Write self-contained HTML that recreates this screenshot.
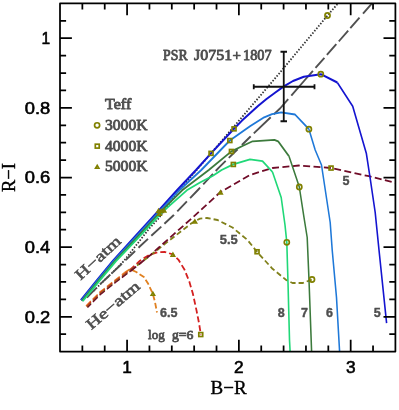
<!DOCTYPE html>
<html><head><meta charset="utf-8"><title>R-I vs B-R</title>
<style>html,body{margin:0;padding:0;background:#fff;}svg{display:block;position:absolute;left:0;top:0;will-change:transform;}text{font-family:"Liberation Sans",sans-serif;}</style>
</head><body>
<svg width="399" height="410" viewBox="0 0 399 410">
<rect width="399" height="410" fill="#fff"/>
<g fill="none" stroke-linejoin="round" stroke-linecap="butt">
<polyline points="93.8,290.9 100.0,284.4 111.3,273.7 123.9,261.0 131.3,251.5 149.0,228.8 158.2,218.8 177.0,193.0 211.0,153.3 234.0,126.5 266.2,88.8 280.0,72.5 327.5,15.5 338.0,3.4" stroke="#333" stroke-width="1.75" stroke-dasharray="1.5 1.6"/>
<path d="M86.9 297.5L96.2 288.1M100.0 284.4L109.4 275.5M112.5 272.6L119.0 266.5L121.9 263.7M125.7 260.1L135.1 251.0M138.5 247.7L140.0 246.3L148.0 238.9M151.3 235.8L161.3 226.6M164.4 223.7L173.8 215.0L174.0 214.8M177.3 211.4L186.9 201.4M190.1 198.1L197.9 190.0L200.1 187.7M203.2 184.3L213.0 173.9M215.7 171.0L218.6 167.9L225.7 160.9M228.8 157.9L237.6 149.2M241.9 145.0L250.0 137.0L250.7 136.3M253.8 133.4L270.7 117.3M273.8 114.4L280.0 108.5L288.2 99.1M291.3 95.6L304.0 81.0L312.9 70.9M315.5 67.9L324.4 57.8M326.9 54.9L336.3 44.2M338.8 41.4L340.0 40.0L348.2 30.6M350.3 28.2L359.5 17.7M363.0 13.7L372.0 3.4" stroke="#505050" stroke-width="1.9"/>
<polyline points="86.0,305.9 99.5,292.4 114.5,280.6 124.9,272.4" stroke="#e08020" stroke-width="1.35" stroke-dasharray="6.8 2.7" stroke-dashoffset="0"/>
<polyline points="124.9,272.4 130.0,269.2 136.3,272.0 143.9,277.0 148.2,283.8 152.7,293.4 155.0,302.0 157.0,312.5" stroke="#e08020" stroke-width="1.8" stroke-dasharray="5.8 2.6"/>
<polyline points="86.6,306.5 100.0,293.0 115.0,281.3 130.0,270.0" stroke="#d42020" stroke-width="1.35" stroke-dasharray="6.8 2.7" stroke-dashoffset="0.6"/>
<polyline points="130.0,270.0 140.0,260.7 148.8,255.1 157.5,252.3 165.0,252.0 172.9,254.4 178.3,259.6 184.4,269.4 189.3,281.6 192.9,293.8 196.6,310.9 199.0,323.0 200.8,334.6" stroke="#d42020" stroke-width="1.8" stroke-dasharray="6 3"/>
<polyline points="87.1,307.1 100.4,293.7 115.3,281.9 130.3,270.6" stroke="#80801a" stroke-width="1.35" stroke-dasharray="6.8 2.7" stroke-dashoffset="1.2"/>
<polyline points="130.3,270.6 149.6,256.0 165.3,243.6 190.0,224.4 194.9,221.1 200.0,218.6 207.0,218.0 217.5,220.0 232.5,227.5 247.5,240.0 257.0,251.8 272.5,268.8 286.2,280.0 292.5,283.0 302.8,283.0 312.0,279.5" stroke="#80801a" stroke-width="1.8" stroke-dasharray="5.4 3"/>
<polyline points="87.5,307.5 100.8,294.1 115.7,282.3 130.7,271.0" stroke="#700c28" stroke-width="1.35" stroke-dasharray="6.8 2.7" stroke-dashoffset="1.8"/>
<polyline points="130.7,271.0 149.5,255.8 190.0,219.9 200.0,210.8 220.5,192.0 250.0,175.0 272.5,168.0 299.0,165.5 331.0,168.0 369.0,176.2 395.4,182.8" stroke="#700c28" stroke-width="1.8" stroke-dasharray="7 3.4"/>
<polyline points="337.3,82.5 352.7,106.3 366.3,153.2 370.2,178.5 375.2,212.5 379.0,250.0 386.6,323.1" stroke="#1414d0" stroke-width="1.6"/>
<polyline points="80.9,300.2 97.0,280.0 113.3,260.3 135.5,236.0 158.1,211.2 177.2,190.0 196.0,170.0 211.0,153.3 234.0,128.8 242.0,120.6 250.0,113.2 258.0,106.0 266.2,99.2 275.0,92.8 283.8,86.4 293.0,81.0 303.8,76.8 320.8,74.2 337.3,82.5" stroke="#1414d0" stroke-width="2"/>
<polyline points="308.9,129.2 315.2,150.0 321.5,165.0 330.2,222.5 332.2,250.0 336.5,297.5 339.6,351.6" stroke="#1e78d8" stroke-width="1.55"/>
<polyline points="81.4,300.5 97.6,280.3 114.0,260.6 136.4,236.4 159.2,211.6 179.6,190.0 201.3,170.0 229.8,140.5 250.0,126.3 264.2,117.3 272.0,114.2 281.2,112.3 295.0,114.5 308.9,129.2" stroke="#1e78d8" stroke-width="1.8"/>
<polyline points="289.0,156.3 297.0,180.0 299.3,187.0 304.0,217.5 307.2,237.5 309.0,280.0 311.6,351.6" stroke="#3c7a3c" stroke-width="1.55"/>
<polyline points="82.0,300.9 98.3,280.7 114.8,261.0 137.5,236.8 160.5,211.9 182.2,190.3 208.8,170.0 231.4,151.4 242.5,146.0 252.6,141.3 274.4,139.8 278.1,141.3 289.0,156.3" stroke="#3c7a3c" stroke-width="1.8"/>
<polyline points="272.5,172.0 281.2,197.5 285.0,225.0 286.8,242.3 288.0,282.5 289.5,340.0 290.1,351.6" stroke="#20d878" stroke-width="1.6"/>
<polyline points="82.7,301.3 99.2,281.1 115.8,261.4 138.7,237.4 162.0,212.4 186.8,190.3 200.0,182.5 212.5,176.0 221.6,170.0 233.2,164.4 250.0,159.3 262.5,161.2 272.5,172.0" stroke="#20d878" stroke-width="1.8"/>
</g>
<g fill="none" stroke="#808000" stroke-width="1.7" stroke-linejoin="miter">
<circle cx="320.8" cy="74.2" r="2.55"/>
<circle cx="308.9" cy="129.2" r="2.55"/>
<circle cx="299.3" cy="187.0" r="2.55"/>
<circle cx="286.8" cy="242.3" r="2.55"/>
<circle cx="327.5" cy="15.5" r="2.55"/>
<circle cx="312.0" cy="279.5" r="2.55"/>
<circle cx="97.1" cy="125.3" r="2.55"/>
<rect x="232.1" y="126.9" width="3.9" height="3.9"/>
<rect x="209.1" y="151.4" width="3.9" height="3.9"/>
<rect x="227.9" y="138.6" width="3.9" height="3.9"/>
<rect x="229.5" y="149.5" width="3.9" height="3.9"/>
<rect x="231.4" y="162.5" width="3.9" height="3.9"/>
<rect x="329.1" y="166.1" width="3.9" height="3.9"/>
<rect x="255.1" y="249.8" width="3.9" height="3.9"/>
<rect x="198.8" y="332.6" width="3.9" height="3.9"/>
<rect x="95.3" y="144.2" width="3.9" height="3.9"/>
<polygon stroke-width="1.6" points="158.50,209.41 156.78,212.39 160.22,212.39"/>
<polygon stroke-width="1.6" points="161.30,209.51 159.58,212.49 163.03,212.49"/>
<polygon stroke-width="1.6" points="164.00,208.91 162.28,211.89 165.72,211.89"/>
<polygon stroke-width="1.6" points="159.50,212.21 157.78,215.19 161.22,215.19"/>
<polygon stroke-width="1.6" points="220.50,190.91 218.78,193.89 222.22,193.89"/>
<polygon stroke-width="1.6" points="194.90,220.01 193.18,222.99 196.62,222.99"/>
<polygon stroke-width="1.6" points="172.90,253.21 171.18,256.19 174.62,256.19"/>
<polygon stroke-width="1.6" points="152.90,292.31 151.18,295.29 154.62,295.29"/>
<polygon stroke-width="1.6" points="97.20,165.31 95.48,168.29 98.92,168.29"/>
</g>
<g stroke="#111" stroke-width="1.8" fill="none">
<path d="M253.75 86.75H314.5M253.75 84.2V89.3M314.5 84.2V89.3M283.75 51.75V121.25M280.5 51.75H287M280.5 121.25H287"/>
</g>
<g stroke="#000" stroke-width="1.75" fill="none" stroke-linecap="butt" stroke-linejoin="round">
<rect x="60.0" y="3.4" width="335.4" height="348.20000000000005"/>
<path d="M82.36 351.6v-6.1M82.36 3.4v6.1M104.72 351.6v-6.1M104.72 3.4v6.1M127.08 351.6v-11.9M127.08 3.4v11.9M149.44 351.6v-6.1M149.44 3.4v6.1M171.80 351.6v-6.1M171.80 3.4v6.1M194.16 351.6v-6.1M194.16 3.4v6.1M216.52 351.6v-6.1M216.52 3.4v6.1M238.88 351.6v-11.9M238.88 3.4v11.9M261.24 351.6v-6.1M261.24 3.4v6.1M283.60 351.6v-6.1M283.60 3.4v6.1M305.96 351.6v-6.1M305.96 3.4v6.1M328.32 351.6v-6.1M328.32 3.4v6.1M350.68 351.6v-11.9M350.68 3.4v11.9M373.04 351.6v-6.1M373.04 3.4v6.1M60.0 334.19h6.1M395.4 334.19h-6.1M60.0 316.78h11.9M395.4 316.78h-11.9M60.0 299.37h6.1M395.4 299.37h-6.1M60.0 281.96h6.1M395.4 281.96h-6.1M60.0 264.55h6.1M395.4 264.55h-6.1M60.0 247.14h11.9M395.4 247.14h-11.9M60.0 229.73h6.1M395.4 229.73h-6.1M60.0 212.32h6.1M395.4 212.32h-6.1M60.0 194.91h6.1M395.4 194.91h-6.1M60.0 177.50h11.9M395.4 177.50h-11.9M60.0 160.09h6.1M395.4 160.09h-6.1M60.0 142.68h6.1M395.4 142.68h-6.1M60.0 125.27h6.1M395.4 125.27h-6.1M60.0 107.86h11.9M395.4 107.86h-11.9M60.0 90.45h6.1M395.4 90.45h-6.1M60.0 73.04h6.1M395.4 73.04h-6.1M60.0 55.63h6.1M395.4 55.63h-6.1M60.0 38.22h11.9M395.4 38.22h-11.9M60.0 20.81h6.1M395.4 20.81h-6.1"/>
</g>
<g fill="#000" font-size="15.6px" stroke="#000" stroke-width="0.55" stroke-linejoin="round">
<text x="50.2" y="44.1" text-anchor="end">1</text>
<text x="50.2" y="113.8" text-anchor="end" textLength="25.5" lengthAdjust="spacingAndGlyphs">0.8</text>
<text x="50.2" y="183.4" text-anchor="end" textLength="25.5" lengthAdjust="spacingAndGlyphs">0.6</text>
<text x="50.2" y="253.0" text-anchor="end" textLength="25.5" lengthAdjust="spacingAndGlyphs">0.4</text>
<text x="50.2" y="322.7" text-anchor="end" textLength="25.5" lengthAdjust="spacingAndGlyphs">0.2</text>
<text x="127.1" y="372.6" text-anchor="middle" textLength="9.6" lengthAdjust="spacingAndGlyphs">1</text>
<text x="238.9" y="372.6" text-anchor="middle" textLength="9.6" lengthAdjust="spacingAndGlyphs">2</text>
<text x="350.7" y="372.6" text-anchor="middle" textLength="9.6" lengthAdjust="spacingAndGlyphs">3</text>
</g>
<g fill="#000" stroke="#000" stroke-width="0.4" stroke-linejoin="round" font-size="19.5px">
<text x="210.6" y="393.7" textLength="36" lengthAdjust="spacingAndGlyphs" style="font-family:'Liberation Serif',serif">B&#8722;R</text>
<text transform="translate(15.4,192) rotate(-90)" textLength="28.8" lengthAdjust="spacingAndGlyphs" style="font-family:'Liberation Serif',serif">R&#8722;I</text>
</g>
<g fill="#4e4e4e" stroke="#4e4e4e" stroke-width="0.85" stroke-linejoin="round" style="font-family:'Liberation Serif',serif" font-size="15px">
<text x="163.1" y="60.4" textLength="24.5" lengthAdjust="spacingAndGlyphs" style="font-family:'Liberation Serif',serif" >PSR</text>
<text x="194.1" y="60.4" textLength="38.1" lengthAdjust="spacingAndGlyphs" style="font-family:'Liberation Serif',serif" >J0751</text>
<text x="232.6" y="60.4" style="font-family:'Liberation Serif',serif" >+</text>
<text x="243" y="60.4" textLength="28.6" lengthAdjust="spacingAndGlyphs" style="font-family:'Liberation Serif',serif" >1807</text>
<text x="105" y="108.75" textLength="26.3" lengthAdjust="spacingAndGlyphs" style="font-family:'Liberation Serif',serif" >Teff</text>
<text x="105" y="130" textLength="42.5" lengthAdjust="spacingAndGlyphs" style="font-family:'Liberation Serif',serif" >3000K</text>
<text x="105" y="150.5" textLength="42.5" lengthAdjust="spacingAndGlyphs" style="font-family:'Liberation Serif',serif" >4000K</text>
<text x="105" y="171.2" textLength="42.5" lengthAdjust="spacingAndGlyphs" style="font-family:'Liberation Serif',serif" >5000K</text>
</g>
<g fill="#4e4e4e" stroke="#4e4e4e" stroke-width="0.4" stroke-linejoin="round" font-weight="bold" font-size="12.5px">
<text x="346" y="185.2" text-anchor="middle">5</text>
<text x="228.75" y="244" text-anchor="middle" textLength="18" lengthAdjust="spacingAndGlyphs">5.5</text>
<text x="281.25" y="317" text-anchor="middle">8</text>
<text x="304.5" y="317" text-anchor="middle">7</text>
<text x="329.5" y="317" text-anchor="middle">6</text>
<text x="377.25" y="317" text-anchor="middle">5</text>
<text x="168.75" y="317" text-anchor="middle" textLength="17.5" lengthAdjust="spacingAndGlyphs">6.5</text>
</g>
<g fill="#4e4e4e" stroke="#4e4e4e" stroke-width="0.8" stroke-linejoin="round" font-size="13.5px">
<text x="148" y="338.8" textLength="16.7" lengthAdjust="spacingAndGlyphs" style="font-family:'Liberation Serif',serif">log</text>
<text x="172" y="338.8" textLength="21.5" lengthAdjust="spacingAndGlyphs" style="font-family:'Liberation Serif',serif">g=6</text>
</g>
<g fill="#4e4e4e" stroke="#4e4e4e" stroke-width="0.55" stroke-linejoin="round" font-size="15.2px">
<text transform="translate(80.6,280.8) rotate(-43)" textLength="56.5" lengthAdjust="spacingAndGlyphs" style="font-family:'Liberation Serif',serif">H&#8722;atm</text>
<text transform="translate(91.3,330.2) rotate(-40.5)" textLength="65.5" lengthAdjust="spacingAndGlyphs" style="font-family:'Liberation Serif',serif">He&#8722;atm</text>
</g>
</svg>
</body></html>
